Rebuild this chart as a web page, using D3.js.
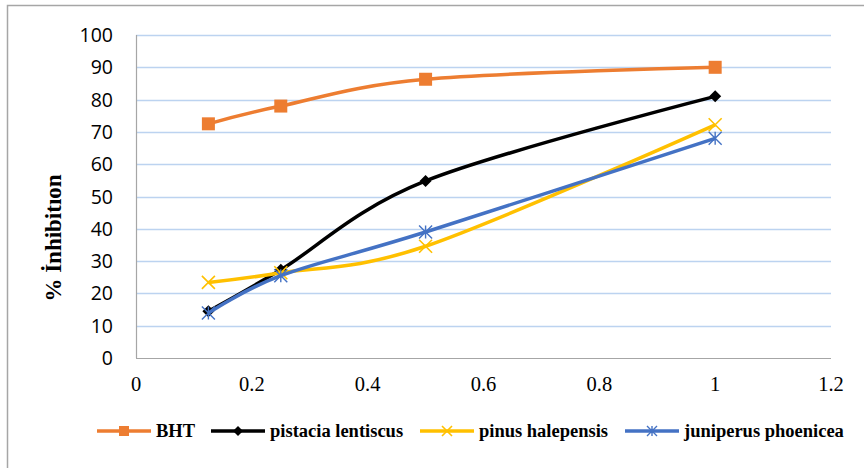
<!DOCTYPE html>
<html>
<head>
<meta charset="utf-8">
<script src="https://cdn.jsdelivr.net/npm/d3@7"></script>
<style>
  body { margin: 0; background: #fff; }
  svg { display: block; }
</style>
</head>
<body>
<script>
var concentrations = [0.125, 0.25, 0.5, 1];
var seriesNames = ["BHT", "pistacia lentiscus", "pinus halepensis", "juniperus phoenicea"];
var bhtValues = [72.5, 78, 86.3, 90];
var pistaciaValues = [14.5, 27.3, 54.8, 81];
var pinusValues = [23.4, 26.4, 34.6, 72.2];
var juniperusValues = [13.9, 25.5, 39, 68];
var xTicks = [0, 0.2, 0.4, 0.6, 0.8, 1, 1.2];
var yTicks = [0, 10, 20, 30, 40, 50, 60, 70, 80, 90, 100];
var yTitle = "% İnhibitıon";

var WIDTH = 864, HEIGHT = 468;
var LEFT = 136, RIGHT = 831, TOP = 35, BOTTOM = 358;

var colors = ["#ED7D31", "#000000", "#FFC000", "#4472C4"];
var shapes = ["square", "diamond", "x", "star"];
var allValues = [bhtValues, pistaciaValues, pinusValues, juniperusValues];

var translate = function (x, y) {
  return "translate(" + x + "," + y + ")";
};

var xScale = d3.scaleLinear().domain([0, 1.2]).range([LEFT, RIGHT]);
var yScale = d3.scaleLinear().domain([0, 100]).range([BOTTOM, TOP]);

var svg = d3.select("body").append("svg")
  .attr("width", WIDTH)
  .attr("height", HEIGHT);

// chart frame (cropped: only top and left edges visible)
svg.append("path")
  .attr("d", "M7.5,468V5.5H864")
  .attr("fill", "none")
  .attr("stroke", "#A6A6A6")
  .attr("stroke-width", 1.5);

// gridlines
svg.append("g").selectAll("line")
  .data(yTicks.filter(function (d) { return d > 0; }))
  .enter().append("line")
  .attr("x1", LEFT).attr("x2", RIGHT)
  .attr("y1", function (d) { return Math.round(yScale(d)) + 0.5; })
  .attr("y2", function (d) { return Math.round(yScale(d)) + 0.5; })
  .attr("stroke", "#BCD3F0")
  .attr("stroke-width", 1.3);

// axes lines
svg.append("line")
  .attr("x1", LEFT + 0.5).attr("x2", LEFT + 0.5)
  .attr("y1", TOP).attr("y2", BOTTOM)
  .attr("stroke", "#A6A6A6").attr("stroke-width", 1.2);
svg.append("line")
  .attr("x1", LEFT).attr("x2", RIGHT)
  .attr("y1", BOTTOM + 0.5).attr("y2", BOTTOM + 0.5)
  .attr("stroke", "#A6A6A6").attr("stroke-width", 1.2);

// y tick labels
svg.append("g").selectAll("text")
  .data(yTicks)
  .enter().append("text")
  .attr("x", 113)
  .attr("y", function (d) { return yScale(d); })
  .attr("dy", "0.36em")
  .attr("text-anchor", "end")
  .attr("font-family", "'Open Sans', sans-serif")
  .attr("font-size", 19.5)
  .attr("fill", "#000")
  .text(function (d) { return d; });

// x tick labels
svg.append("g").selectAll("text")
  .data(xTicks)
  .enter().append("text")
  .attr("x", function (d) { return xScale(d); })
  .attr("y", 391)
  .attr("text-anchor", "middle")
  .attr("font-family", "'Liberation Serif', serif")
  .attr("font-size", 20.5)
  .attr("fill", "#000")
  .text(function (d) { return d; });

// y title
svg.append("text")
  .attr("transform", translate(61, 238) + " rotate(-90)")
  .attr("text-anchor", "middle")
  .attr("font-family", "'Liberation Serif', serif")
  .attr("font-weight", "bold")
  .attr("font-size", 23)
  .attr("fill", "#000")
  .text(yTitle);

var drawMarker = function (g, shape, color, size) {
  var h = size / 2;
  if (shape === "square") {
    g.append("rect")
      .attr("x", -h).attr("y", -h).attr("width", size).attr("height", size)
      .attr("fill", color);
  } else if (shape === "diamond") {
    g.append("path")
      .attr("d", "M0," + (-h) + "L" + h + ",0L0," + h + "L" + (-h) + ",0Z")
      .attr("fill", color);
  } else if (shape === "x") {
    g.append("path")
      .attr("d", "M" + (-h) + "," + (-h) + "L" + h + "," + h + "M" + h + "," + (-h) + "L" + (-h) + "," + h)
      .attr("stroke", color).attr("stroke-width", 1.6).attr("fill", "none");
  } else {
    g.append("path")
      .attr("d", "M" + (-h) + "," + (-h) + "L" + h + "," + h + "M" + h + "," + (-h) + "L" + (-h) + "," + h + "M0," + (-h) + "V" + h)
      .attr("stroke", color).attr("stroke-width", 1.4).attr("fill", "none");
  }
};

var line = d3.line()
  .x(function (d, i) { return xScale(concentrations[i]); })
  .y(function (d) { return yScale(d); })
  .curve(d3.curveCatmullRom.alpha(0));

var markerSizes = [13, 12, 13, 13];

allValues.forEach(function (vals, s) {
  var g = svg.append("g");
  g.append("path")
    .attr("d", line(vals))
    .attr("fill", "none")
    .attr("stroke", colors[s])
    .attr("stroke-width", 3.5)
    .attr("stroke-linejoin", "round");
  vals.forEach(function (v, i) {
    var m = g.append("g").attr("transform", translate(xScale(concentrations[i]), yScale(v)));
    drawMarker(m, shapes[s], colors[s], markerSizes[s]);
  });
});

// legend
var legendX = [97, 211, 420, 625];
var legendY = 431;
seriesNames.forEach(function (name, s) {
  var g = svg.append("g").attr("transform", translate(legendX[s], legendY));
  g.append("line")
    .attr("x1", 0).attr("x2", 54)
    .attr("stroke", colors[s]).attr("stroke-width", 3.5);
  var m = g.append("g").attr("transform", translate(27, 0));
  drawMarker(m, shapes[s], colors[s], 10);
  g.append("text")
    .attr("x", 59)
    .attr("dy", "0.35em")
    .attr("font-family", "'Liberation Serif', serif")
    .attr("font-weight", "bold")
    .attr("font-size", 18.5)
    .attr("fill", "#000")
    .text(name);
});
</script>
</body>
</html>
